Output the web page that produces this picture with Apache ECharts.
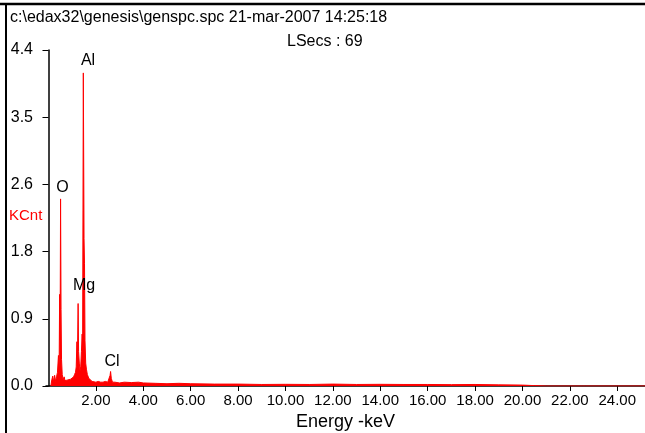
<!DOCTYPE html>
<html>
<head>
<meta charset="utf-8">
<script src="https://cdn.jsdelivr.net/npm/echarts@6/dist/echarts.min.js"></script>
<style>
html,body{margin:0;padding:0;background:#fff;}
#chart{width:645px;height:433px;}
</style>
</head>
<body>
<div id="chart"></div>
<script>
// Spectrum (energy in keV, counts in KCnt)
const energy = [0.10,0.14,0.18,0.22,0.26,0.30,0.34,0.38,0.42,0.45,0.47,0.49,0.51,0.53,0.55,0.58,0.62,0.66,0.70,0.76,0.82,0.88,0.94,1.00,1.06,1.10,1.14,1.17,1.20,1.22,1.25,1.27,1.30,1.33,1.36,1.39,1.42,1.44,1.47,1.50,1.52,1.54,1.57,1.60,1.64,1.70,1.76,1.84,1.92,2.00,2.10,2.20,2.30,2.40,2.50,2.56,2.60,2.62,2.65,2.70,2.80,3.00,3.20,3.50,3.80,4.00,4.50,5.00,5.50,6.00,7.00,8.00,9.00,10.00,11.00,12.00,13.00,14.00,15.00,16.00,17.00,18.00,19.00,20.00,20.50,21.00,22.55,22.60,22.65,25.20];
const kcnt   = [0.00,0.08,0.13,0.05,0.14,0.06,0.12,0.18,0.40,0.25,1.20,0.60,2.45,1.00,0.35,0.15,0.08,0.12,0.07,0.06,0.08,0.07,0.09,0.10,0.12,0.15,0.18,0.25,0.58,0.30,1.08,0.45,0.30,0.20,0.25,0.45,0.68,0.50,4.10,1.93,1.60,0.60,0.30,0.22,0.15,0.10,0.08,0.06,0.07,0.05,0.06,0.05,0.05,0.06,0.05,0.07,0.14,0.19,0.10,0.05,0.05,0.04,0.05,0.045,0.05,0.04,0.035,0.03,0.035,0.03,0.025,0.025,0.02,0.022,0.02,0.025,0.02,0.022,0.02,0.02,0.018,0.02,0.015,0.012,0.005,0.0,0.0,0.02,0.0,0.0];

// Element peak labels
const peakNames  = ['Al','O','Mg','Cl'];
const peakLabelE = [1.667,0.59,1.50,2.68];
const peakLabelV = [4.256,2.593,1.31,0.314];

// Axis ticks
const xTickValues = [2,4,6,8,10,12,14,16,18,20,22,24];
const yMax = 4.4, yInterval = 0.88;

const chart = echarts.init(document.getElementById('chart'), null, {renderer:'canvas'});
const FONT = 'Liberation Sans, Arial, sans-serif';

chart.setOption({
  animation: false,
  backgroundColor: '#fff',
  grid: {left: 46, right: 0, top: 50, bottom: 47, containLabel: false, outerBoundsMode: 'none'},
  xAxis: {
    type: 'value',
    min: -0.105, max: 25.17,
    name: 'Energy -keV',
    nameLocation: 'middle',
    nameGap: 23,
    nameTextStyle: {color:'#000', fontFamily: FONT, fontSize: 18},
    axisLine: {show:true, onZero:false, lineStyle:{color:'#000', width:1.5}},
    axisTick: {show:true, inside:false, length:5, customValues: xTickValues, lineStyle:{color:'#000', width:1}},
    axisLabel: {show:true, margin:7, customValues: xTickValues, color:'#000', fontFamily: FONT, fontSize: 15,
      formatter: v => v.toFixed(2)},
    splitLine: {show:false}
  },
  yAxis: {
    type: 'value',
    min: 0, max: yMax, interval: yInterval,
    axisLine: {show:true, lineStyle:{color:'#000', width:1.5}},
    axisTick: {show:true, inside:false, length:6, lineStyle:{color:'#000', width:1}},
    axisLabel: {show:true, margin:13, color:'#000', fontFamily: FONT, fontSize: 16,
      formatter: v => v.toFixed(1)},
    splitLine: {show:false}
  },
  series: [
    {
      type: 'line',
      data: energy.map((e,i)=>[e, kcnt[i]]),
      showSymbol: false,
      symbol: 'none',
      lineStyle: {color:'#ff0000', width:1},
      areaStyle: {color:'#ff0000', opacity:1},
      z: 2
    },
    {
      type: 'scatter',
      data: peakNames.map((n,i)=>({name:n, value:[peakLabelE[i], peakLabelV[i]]})),
      symbolSize: 0,
      itemStyle: {opacity: 1},
      label: {show:true, position:'inside', formatter: p => p.name, color:'#000', opacity: 1, fontFamily: FONT, fontSize: 16},
      z: 3
    }
  ],
  graphic: [
    {type:'line', shape:{x1:0, y1:4, x2:645, y2:4}, style:{stroke:'#000', lineWidth:2.5}},
    {type:'line', shape:{x1:6, y1:3, x2:6, y2:433}, style:{stroke:'#000', lineWidth:2}},
    {type:'text', left:10, top:10, style:{text:'c:\\edax32\\genesis\\genspc.spc 21-mar-2007 14:25:18', fill:'#000', font:'16px ' + FONT}},
    {type:'text', left:287, top:34, style:{text:'LSecs : 69', fill:'#000', font:'16px ' + FONT}},
    {type:'text', left:9, top:208, style:{text:'KCnt', fill:'#ff0000', font:'15px ' + FONT}}
  ]
});
</script>
</body>
</html>
